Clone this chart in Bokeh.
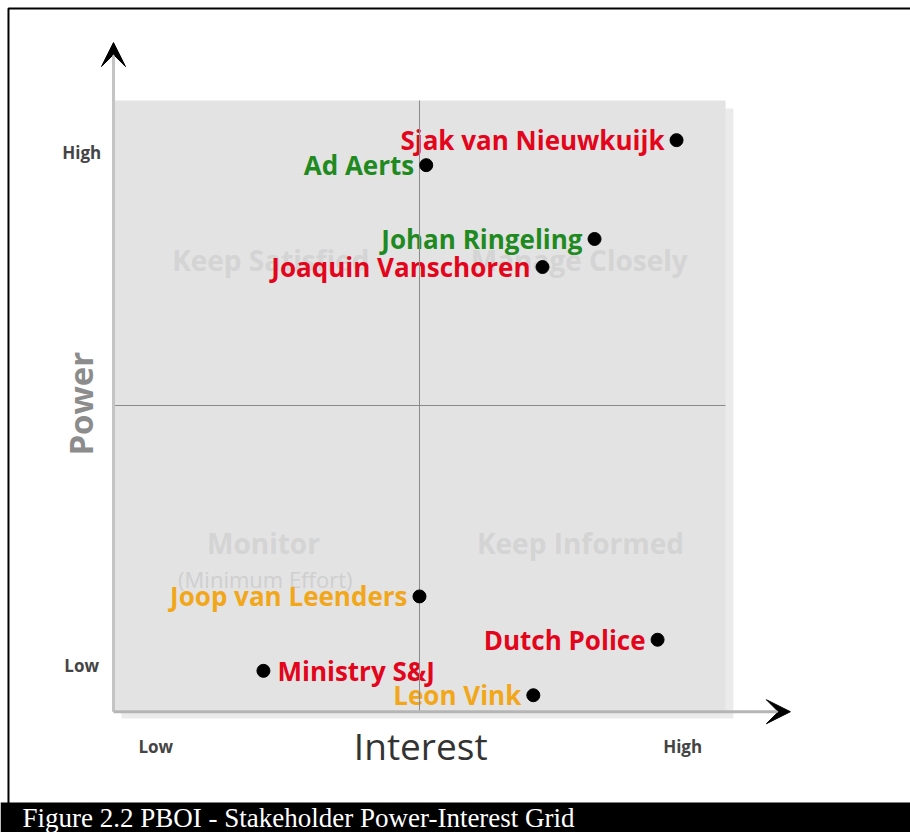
import math
from bokeh.plotting import figure
from bokeh.models import ColumnDataSource, Arrow, VeeHead, BoxAnnotation
from bokeh.core.properties import value
from bokeh.embed import file_html
from bokeh.resources import INLINE

# ---------------- data ----------------
names = ["Sjak van Nieuwkuijk", "Ad Aerts", "Johan Ringeling", "Joaquin Vanschoren",
         "Joop van Leenders", "Dutch Police", "Ministry S&J", "Leon Vink"]
interest = [9.20, 5.11, 7.86, 7.01, 5.00, 8.89, 2.45, 6.86]
power = [9.35, 8.94, 7.73, 7.27, 1.87, 1.16, 0.65, 0.25]
label_colors = ["#e3051b", "#1f8a1f", "#1f8a1f", "#e3051b",
                "#f2a71b", "#e3051b", "#e3051b", "#f2a71b"]
label_side = ["left", "left", "left", "left", "left", "left", "right", "left"]

quadrant_labels = ["Keep Satisfied", "Manage Closely", "Monitor", "Keep Informed"]
quadrant_x = [2.57, 7.61, 2.45, 7.63]
quadrant_y = [7.38, 7.38, 2.74, 2.74]
sub_label = ["(Minimum Effort)"]
sub_x = [2.48]
sub_y = [2.16]

power_tick_pos = [0.74, 9.15]
power_tick_labels = ["Low", "High"]
interest_tick_pos = [0.69, 9.30]
interest_tick_labels = ["Low", "High"]

caption = "Figure 2.2 PBOI - Stakeholder Power-Interest Grid"

# ---------------- figure ----------------
X_LO, X_HI = -1.8464, 13.0229
Y_LO, Y_HI = -2.0, 11.6393

p = figure(width=910, height=832, x_range=(X_LO, X_HI), y_range=(Y_LO, Y_HI),
           output_backend="svg", toolbar_location=None, tools="",
           x_axis_location=None, y_axis_location=None)
p.min_border = 0
p.grid.visible = False
p.background_fill_color = "white"
p.border_fill_color = "white"
p.outline_line_color = None

# caption bar (underlay, so the caption text glyph is drawn on top)
p.add_layout(BoxAnnotation(top=-1.508, fill_color="black", fill_alpha=1.0,
                           line_color=None, level="underlay"))

# outer border (left and top edges visible; right/bottom fall outside the canvas)
p.quad(left=[-1.716], right=[13.4], bottom=[-2.2], top=[11.508],
       fill_color=None, line_color="black", line_width=2)

# shadow + grid box
p.quad(left=[0.13], right=[10.13], bottom=[-0.13], top=[9.87],
       fill_color="#ebebeb", line_color=None)
p.quad(left=[0], right=[10], bottom=[0], top=[10],
       fill_color="#e3e3e3", line_color=None)

# quadrant labels
p.text(x=quadrant_x, y=quadrant_y, text=quadrant_labels,
       text_font=value("Open Sans"), text_font_size="28px", text_font_style="bold",
       text_color="#d4d4d4", text_align="center", text_baseline="middle")
p.text(x=sub_x, y=sub_y, text=sub_label,
       text_font=value("Open Sans"), text_font_size="22px",
       text_color="#cfcfcf", text_align="center", text_baseline="middle")

# axes arrows
p.add_layout(Arrow(end=VeeHead(size=24, fill_color="black", line_color="black"),
                   x_start=0, y_start=-0.02, x_end=0, y_end=10.95,
                   line_color="#c4c4c4", line_width=3))
p.add_layout(Arrow(end=VeeHead(size=24, fill_color="black", line_color="black"),
                   x_start=0, y_start=-0.02, x_end=11.06, y_end=-0.02,
                   line_color="#b5b5b5", line_width=3))

# stakeholder names
src = ColumnDataSource(dict(
    x=interest, y=power, name=names, color=label_colors,
    align=["right" if s == "left" else "left" for s in label_side],
    dx=[-12 if s == "left" else 14 for s in label_side],
))
p.text(x="x", y="y", text="name", source=src, text_color="color",
       text_align="align", x_offset="dx", text_baseline="middle",
       text_font=value("Open Sans"), text_font_size="26px", text_font_style="bold")

# center lines
p.segment(x0=[5, 0], y0=[0, 5], x1=[5, 10], y1=[10, 5],
          line_color="#8a8a8a", line_width=1)

# dots
p.scatter(x="x", y="y", source=src, size=13, color="black")

# tick labels
p.text(x=[-0.52] * len(power_tick_pos), y=power_tick_pos, text=power_tick_labels,
       text_font=value("Open Sans"), text_font_size="17px", text_font_style="bold",
       text_color="#444444", text_align="center", text_baseline="middle")
p.text(x=interest_tick_pos, y=[-0.59] * len(interest_tick_pos), text=interest_tick_labels,
       text_font=value("Open Sans"), text_font_size="17px", text_font_style="bold",
       text_color="#444444", text_align="center", text_baseline="middle")

# axis titles
p.text(x=[5.02], y=[-0.57], text=["Interest"],
       text_font=value("Open Sans"), text_font_size="37px", text_font_style="normal",
       text_color="#333333", text_align="center", text_baseline="middle")
p.text(x=[-0.54], y=[5.03], text=["Power"], angle=math.pi / 2,
       text_font=value("Open Sans"), text_font_size="33px", text_font_style="bold",
       text_color="#8c8c8c", text_align="center", text_baseline="middle")

# caption text
p.text(x=[-1.487], y=[-1.77], text=[caption],
       text_font=value("Liberation Serif"), text_font_size="27px",
       text_color="white", text_align="left", text_baseline="middle")

open("out.html", "w").write(file_html(p, INLINE))
